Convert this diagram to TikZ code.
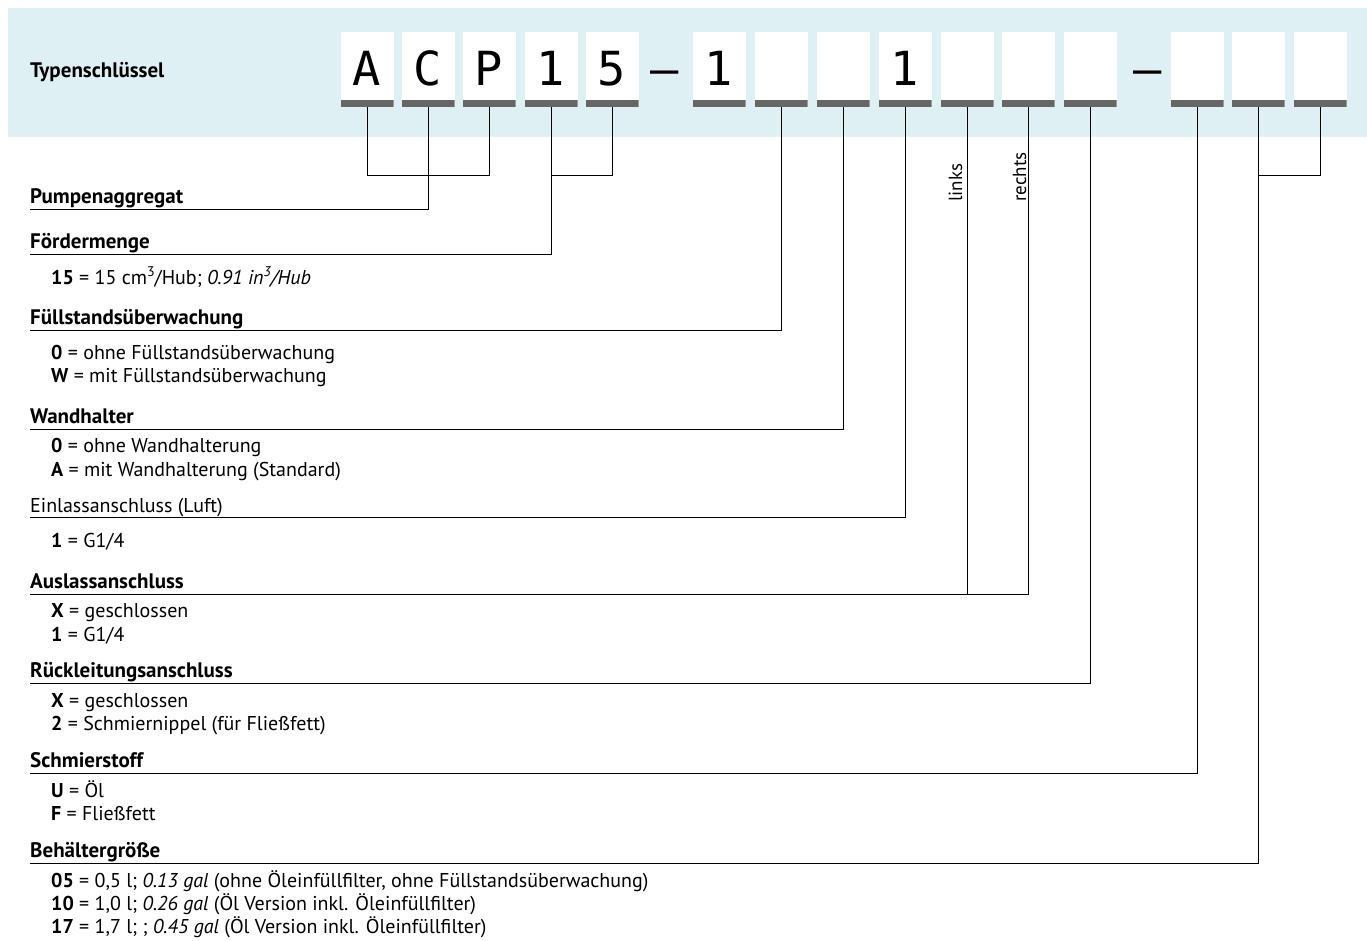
\documentclass[tikz,border=0pt]{standalone}
\usepackage{fontspec}
\setmainfont{PT Sans}
\newfontfamily\codefont{DejaVu Sans Mono}
\usetikzlibrary{positioning,calc}
\definecolor{bandblue}{RGB}{223,240,244}
\definecolor{bargray}{RGB}{102,102,102}
\newcommand\hoch[1]{\raisebox{0.4em}{\fontsize{14}{14}\selectfont #1}}
\begin{document}
\begin{tikzpicture}[x=1pt,y=-1pt]%
  \tikzstyle{code}=[fill=white, minimum width=53pt, minimum height=75pt, inner sep=0pt,
    font=\codefont\fontsize{47}{47}\selectfont, text height=34pt, text depth=3pt,
    path picture={\fill[bargray] (path picture bounding box.south west) rectangle ([yshift=7pt]path picture bounding box.south east);}];
  \tikzstyle{sep}=[anchor=base, inner sep=0pt, font=\codefont\fontsize{47}{47}\selectfont];
  \tikzstyle{head}=[anchor=base west, inner sep=0pt, font=\bfseries\fontsize{21}{24}\selectfont];
  \tikzstyle{item}=[anchor=base west, inner sep=0pt, font=\fontsize{20}{23}\selectfont];
  \tikzstyle{side}=[rotate=90, anchor=base west, inner sep=0pt, font=\fontsize{19}{22}\selectfont];
  \tikzstyle{conn}=[line width=1pt, black];
  \useasboundingbox (0,0) rectangle (1367,940);
  \fill[bandblue] (8,8) rectangle (1367,137);

  \node[head] (title) at (30,77) {Typenschlüssel};

  \foreach \x/\t [count=\i] in {367/A, 428/C, 489/P, 551/1, 612/5, 719/1, 781/, 843/, 905/1, 967/, 1028/, 1090/, 1197/, 1258/, 1320/}
    \node[code] (c\i) at (\x,69.5) {\t};
  \node[sep] (d1) at (665,85) {–};
  \node[sep] (d2) at (1148,85) {–};

  \coordinate (brk) at (0,175);
  \draw[conn] (c1.south) |- (brk -| c3.south) -- (c3.south);
  \draw[conn] (c4.south) |- (brk -| c5.south) -- (c5.south);
  \draw[conn] (c14.south) |- (brk -| c15.south) -- (c15.south);

  \node[head] (hPump) at (30,203) {Pumpenaggregat};
  \draw[conn] (c2.south) |- ([yshift=-6pt]hPump.base west);

  \node[head] (hFoerd) at (30,248) {Fördermenge};
  \draw[conn] (c4.south) |- ([yshift=-6pt]hFoerd.base west);
  \node[item] (i1) at (51,284) {\textbf{15} = 15 cm\hoch{3}/Hub; \textit{0.91 in\hoch{3}/Hub}};

  \node[head] (hFuell) at (30,324) {Füllstandsüberwachung};
  \draw[conn] (c7.south) |- ([yshift=-6pt]hFuell.base west);
  \node[item] (i2) at (51,359) {\textbf{0} = ohne Füllstandsüberwachung};
  \node[item] (i3) at (51,382) {\textbf{W} = mit Füllstandsüberwachung};

  \node[head] (hWand) at (30,423) {Wandhalter};
  \draw[conn] (c8.south) |- ([yshift=-6pt]hWand.base west);
  \node[item] (i4) at (51,452) {\textbf{0} = ohne Wandhalterung};
  \node[item] (i5) at (51,476) {\textbf{A} = mit Wandhalterung (Standard)};

  \node[item] (hEinl) at (30,512) {Einlassanschluss (Luft)};
  \draw[conn] (c9.south) |- ([yshift=-5pt]hEinl.base west);
  \node[item] (i6) at (51,547) {\textbf{1} = G1/4};

  \node[head] (hAusl) at (30,588) {Auslassanschluss};
  \coordinate (lAusl) at ([yshift=-6pt]hAusl.base west);
  \draw[conn] (c11.south) |- (lAusl);
  \draw[conn] (c10.south) -- (c10.south |- lAusl);
  \node[side] (links) at (962,202) {links};
  \node[side] (rechts) at (1026,202) {rechts};
  \node[item] (i7) at (51,617) {\textbf{X} = geschlossen};
  \node[item] (i8) at (51,641) {\textbf{1} = G1/4};

  \node[head] (hRueck) at (30,677) {Rückleitungsanschluss};
  \draw[conn] (c12.south) |- ([yshift=-6pt]hRueck.base west);
  \node[item] (i9) at (51,707) {\textbf{X} = geschlossen};
  \node[item] (i10) at (51,730) {\textbf{2} = Schmiernippel (für Fließfett)};

  \node[head] (hSchm) at (30,767) {Schmierstoff};
  \draw[conn] (c13.south) |- ([yshift=-6pt]hSchm.base west);
  \node[item] (i11) at (51,797) {\textbf{U} = Öl};
  \node[item] (i12) at (51,820) {\textbf{F} = Fließfett};

  \node[head] (hBeh) at (30,857) {Behältergröße};
  \draw[conn] (c14.south) |- ([yshift=-6pt]hBeh.base west);
  \node[item] (i13) at (51,887) {\textbf{05} = 0,5 l; \textit{0.13 gal} (ohne Öleinfüllfilter, ohne Füllstandsüberwachung)};
  \node[item] (i14) at (51,910) {\textbf{10} = 1,0 l; \textit{0.26 gal} (Öl Version inkl. Öleinfüllfilter)};
  \node[item] (i15) at (51,933) {\textbf{17} = 1,7 l; ; \textit{0.45 gal} (Öl Version inkl. Öleinfüllfilter)};
\end{tikzpicture}
\end{document}
